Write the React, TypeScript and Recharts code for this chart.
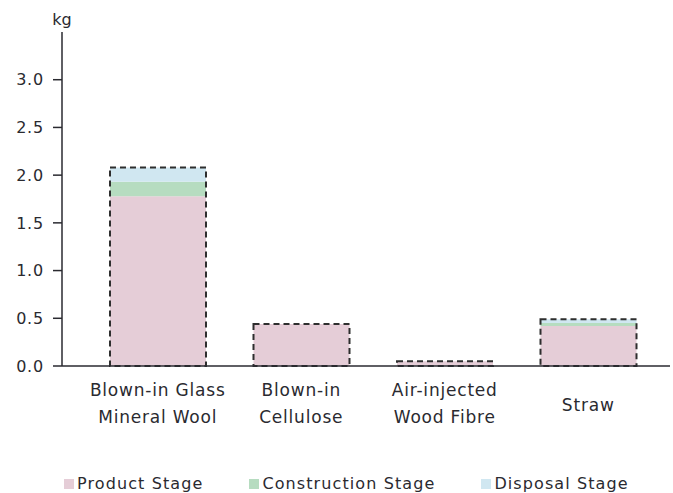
import React from "react";
import { BarChart, Bar, XAxis, YAxis, Legend } from "recharts";

// Embodied carbon per insulation type, split by life-cycle stage (kg)
const categories = [
  ["Blown-in Glass", "Mineral Wool"],
  ["Blown-in", "Cellulose"],
  ["Air-injected", "Wood Fibre"],
  ["Straw"],
];
const productStage = [1.78, 0.44, 0.05, 0.42];
const constructionStage = [0.15, 0, 0, 0.03];
const disposalStage = [0.15, 0, 0, 0.04];
const yTicks = [0, 0.5, 1.0, 1.5, 2.0, 2.5, 3.0];

const series = [
  { key: "product", name: "Product Stage", color: "#e5cdd7" },
  { key: "construction", name: "Construction Stage", color: "#b6dcc0" },
  { key: "disposal", name: "Disposal Stage", color: "#d0e7f1" },
];

const data = categories.map((lines, i) => ({
  name: lines.join(" "),
  lines,
  product: productStage[i],
  construction: constructionStage[i],
  disposal: disposalStage[i],
  total: productStage[i] + constructionStage[i] + disposalStage[i],
}));

const FONT = "'DejaVu Sans', 'Open Sans', sans-serif";
const INK = "#2a2a30";
const TEXT_STYLE = { letterSpacing: "0.8px" };

const CategoryTick = (props: any) => {
  const { x, y, payload } = props;
  const row = data.find((d) => d.name === payload.value);
  const lines = row ? row.lines : [payload.value];
  const offsets = lines.length === 1 ? [39] : [24, 51];
  return (
    <g>
      {lines.map((t: string, i: number) => (
        <text
          key={i}
          x={x}
          y={y + offsets[i]}
          textAnchor="middle"
          dominantBaseline="central"
          fill={INK}
          fontSize={17}
          fontFamily={FONT}
          style={TEXT_STYLE}
        >
          {t}
        </text>
      ))}
    </g>
  );
};

const UnitLabel = (props: any) => {
  const { viewBox } = props;
  return (
    <text
      x={viewBox.x + viewBox.width}
      y={viewBox.y - 7}
      textAnchor="middle"
      fill={INK}
      fontSize={16}
      fontFamily={FONT}
    >
      kg
    </text>
  );
};

const StageLegend = () => (
  <div
    style={{
      display: "flex",
      alignItems: "center",
      gap: 46,
      paddingLeft: 64,
      fontFamily: FONT,
      fontSize: 16,
      lineHeight: "18px",
      letterSpacing: "1.1px",
      color: INK,
      height: 30,
      paddingTop: 12,
      boxSizing: "border-box",
    }}
  >
    {series.map((s) => (
      <div key={s.key} style={{ display: "flex", alignItems: "center" }}>
        <span
          style={{
            width: 10,
            height: 10,
            background: s.color,
            display: "inline-block",
            marginRight: 3,
          }}
        />
        <span>{s.name}</span>
      </div>
    ))}
  </div>
);

export default function App() {
  return (
    <div style={{ position: "absolute", left: 0, top: 0, background: "#fff" }}>
      <BarChart
        width={673}
        height={493}
        data={data}
        margin={{ top: 32, right: 3, bottom: 0, left: 0 }}
      >
        <XAxis
          dataKey="name"
          padding={{ left: 24, right: 10 }}
          axisLine={{ stroke: INK, strokeWidth: 1.5 }}
          tickLine={false}
          tickSize={0}
          tickMargin={0}
          height={97}
          interval={0}
          tick={<CategoryTick />}
        />
        <XAxis
          xAxisId="outline"
          dataKey="name"
          padding={{ left: 24, right: 10 }}
          hide
        />
        <YAxis
          domain={[0, 3.5]}
          ticks={yTicks}
          width={62}
          tickSize={9}
          tickMargin={9}
          tickFormatter={(v: number) => v.toFixed(1)}
          axisLine={{ stroke: INK, strokeWidth: 1.5 }}
          tickLine={{ stroke: INK, strokeWidth: 1.5 }}
          tick={{ fill: INK, fontSize: 16, fontFamily: FONT, style: TEXT_STYLE }}
          label={<UnitLabel />}
        />
        <Legend
          verticalAlign="bottom"
          height={30}
          content={<StageLegend />}
        />
        {series.map((s) => (
          <Bar
            key={s.key}
            dataKey={s.key}
            name={s.name}
            stackId="stage"
            fill={s.color}
            barSize={96}
            isAnimationActive={false}
          />
        ))}
        <Bar
          dataKey="total"
          xAxisId="outline"
          fill="none"
          stroke="#2e2e2e"
          strokeWidth={2}
          strokeDasharray="6 4"
          barSize={96}
          legendType="none"
          isAnimationActive={false}
        />
      </BarChart>
    </div>
  );
}
